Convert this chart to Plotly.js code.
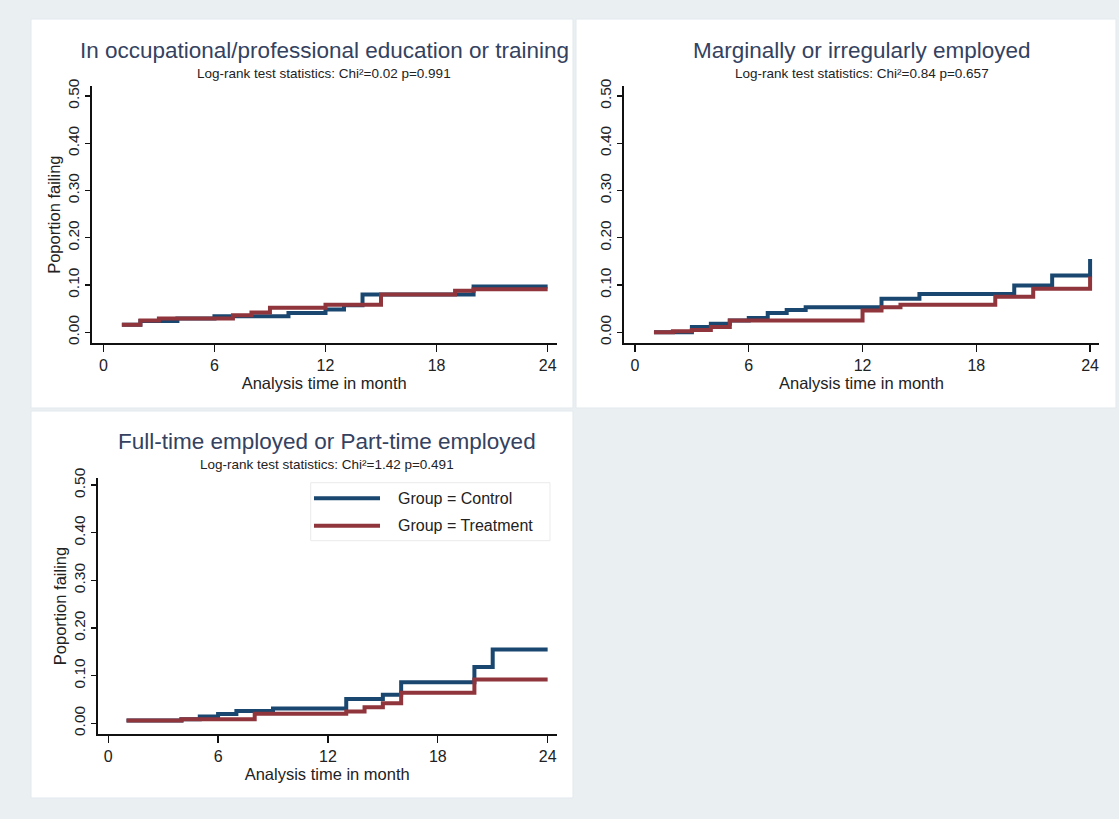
<!DOCTYPE html>
<html><head><meta charset="utf-8">
<script src="https://cdn.plot.ly/plotly-3.0.1.min.js"></script>
<style>html,body{margin:0;padding:0;background:#eaeff2;}#chart{width:1119px;height:819px;}</style>
</head><body><div id="chart"></div>
<script>
// ---- data ----
const panelTitles = ['In occupational/professional education or training', 'Marginally or irregularly employed', 'Full-time employed or Part-time employed'];
const panelSubtitles = ['Log-rank test statistics: Chi²=0.02 p=0.991', 'Log-rank test statistics: Chi²=0.84 p=0.657', 'Log-rank test statistics: Chi²=1.42 p=0.491'];
const groupNames = ['Group = Control', 'Group = Treatment'];
const xTickVals = [0, 6, 12, 18, 24];
const yTickVals = [0, 0.1, 0.2, 0.3, 0.4, 0.5];
const xAxisTitle = 'Analysis time in month';
const yAxisTitle = 'Poportion failing';

const eduControlT = [1, 2, 4, 6, 10, 12, 13, 14, 20, 24];
const eduControlV = [0.016, 0.024, 0.029, 0.034, 0.041, 0.048, 0.057, 0.080, 0.097, 0.097];
const eduTreatT = [1, 2, 3, 7, 8, 9, 12, 15, 19, 20, 24];
const eduTreatV = [0.016, 0.025, 0.029, 0.036, 0.042, 0.052, 0.058, 0.080, 0.088, 0.091, 0.091];

const margControlT = [1, 3, 4, 5, 6, 7, 8, 9, 13, 15, 20, 22, 24];
const margControlV = [0.000, 0.011, 0.018, 0.025, 0.030, 0.041, 0.047, 0.053, 0.071, 0.081, 0.099, 0.120, 0.155];
const margTreatT = [1, 2, 3, 4, 5, 12, 13, 14, 19, 21, 24];
const margTreatV = [0.000, 0.002, 0.005, 0.011, 0.025, 0.046, 0.053, 0.058, 0.075, 0.092, 0.118];

const fullControlT = [1, 4, 5, 6, 7, 9, 13, 15, 16, 20, 21, 24];
const fullControlV = [0.0056, 0.0084, 0.014, 0.0196, 0.026, 0.031, 0.051, 0.060, 0.086, 0.118, 0.155, 0.155];
const fullTreatT = [1, 4, 8, 13, 14, 15, 16, 20, 24];
const fullTreatV = [0.0056, 0.0084, 0.020, 0.025, 0.0335, 0.042, 0.064, 0.092, 0.092];

// ---- layout helpers ----
const W = 1119, H = 819;
const px = x => x / W;
const py = y => 1 - y / H;
const FONT = 'Arial, "Liberation Sans", sans-serif';
const BLUE = '#1a476f', RED = '#90353b';
const TITLE_COLOR = '#34425f', TEXT = '#222222';

const panels = [
  {key: '', left: 91.7, right: 556.7, top: 86, bottom: 343.3, xr: [-0.63, 24.49], yr: [-0.0233, 0.521], ytitle: true,
   ct: eduControlT, cv: eduControlV, tt: eduTreatT, tv: eduTreatV, box: [31, 19, 573, 408], titleY: 50, subY: 73.5},
  {key: '2', left: 624, right: 1099, top: 86, bottom: 343.3, xr: [-0.58, 24.47], yr: [-0.0233, 0.521], ytitle: false,
   ct: margControlT, cv: margControlV, tt: margTreatT, tv: margTreatV, box: [576, 19, 1116, 408], titleY: 50, subY: 73.5},
  {key: '3', left: 97.8, right: 556.6, top: 478, bottom: 734, xr: [-0.57, 24.49], yr: [-0.0225, 0.515], ytitle: true,
   ct: fullControlT, cv: fullControlV, tt: fullTreatT, tv: fullTreatV, box: [31, 411, 573, 798], titleY: 441, subY: 464}
];

const data = [];
const layout = {
  width: W, height: H, margin: {l: 0, r: 0, t: 0, b: 0},
  paper_bgcolor: '#eaeff2', plot_bgcolor: '#ffffff',
  font: {family: FONT, color: TEXT},
  showlegend: false, annotations: [], shapes: []
};

panels.forEach((p, i) => {
  const xa = 'x' + p.key, ya = 'y' + p.key;
  const gridKey = 'yaxis' + (4 + i);
  data.push({x: p.ct, y: p.cv, type: 'scatter', mode: 'lines', name: groupNames[0],
             line: {shape: 'hv', color: BLUE, width: 4}, xaxis: xa, yaxis: ya, hoverinfo: 'skip'});
  data.push({x: p.tt, y: p.tv, type: 'scatter', mode: 'lines', name: groupNames[1],
             line: {shape: 'hv', color: RED, width: 4}, xaxis: xa, yaxis: ya, hoverinfo: 'skip'});

  layout['xaxis' + p.key] = {
    domain: [px(p.left), px(p.right)], range: p.xr, anchor: ya,
    tickvals: xTickVals, ticks: 'outside', ticklen: 7, tickwidth: 1.3, tickcolor: '#111',
    showline: true, linecolor: '#111', linewidth: 1.6, showgrid: false, zeroline: false,
    tickfont: {size: 16, color: TEXT, family: FONT},
    title: {text: xAxisTitle, font: {size: 16.5, color: TEXT, family: FONT}, standoff: 1}
  };
  layout['yaxis' + p.key] = {
    domain: [py(p.bottom), py(p.top)], range: p.yr, anchor: xa,
    tickvals: yTickVals, tickformat: '.2f', tickangle: -90, ticks: 'outside', ticklen: 5, tickwidth: 1.3, tickcolor: '#111',
    showline: true, linecolor: '#111', linewidth: 1.6, showgrid: false, zeroline: false,
    tickfont: {size: 15.5, color: TEXT, family: FONT},
    title: p.ytitle ? {text: yAxisTitle, font: {size: 16.5, color: TEXT, family: FONT}, standoff: 0} : {text: ''}
  };
  // gridlines (not at the top tick) on an overlaid axis
  layout[gridKey] = {
    overlaying: ya, anchor: xa, range: p.yr, tickvals: yTickVals.slice(0, 5),
    showgrid: true, gridcolor: '#e6eaed', gridwidth: 1, showticklabels: false, ticks: '',
    showline: false, zeroline: false
  };
  // white panel background
  layout.shapes.push({type: 'rect', xref: 'paper', yref: 'paper', layer: 'below',
    x0: px(p.box[0]), x1: px(p.box[2]), y0: py(p.box[3]), y1: py(p.box[1]),
    fillcolor: '#ffffff', line: {color: '#e3e9ed', width: 1}});
  const cx = px((p.left + p.right) / 2);
  layout.annotations.push({text: panelTitles[i], xref: 'paper', yref: 'paper', x: cx, y: py(p.titleY),
    xanchor: 'center', yanchor: 'middle', showarrow: false, font: {size: 22.5, color: TITLE_COLOR, family: FONT}});
  layout.annotations.push({text: panelSubtitles[i], xref: 'paper', yref: 'paper', x: cx, y: py(p.subY),
    xanchor: 'center', yanchor: 'middle', showarrow: false, font: {size: 13.5, color: TEXT, family: FONT}});
});

// legend (inside panel 3)
layout.shapes.push({type: 'rect', xref: 'paper', yref: 'paper', x0: px(310.7), x1: px(550), y0: py(540.7), y1: py(482.7),
  fillcolor: '#ffffff', line: {color: '#ebebeb', width: 1}});
[[BLUE, 498.3], [RED, 525.7]].forEach((d, k) => {
  layout.shapes.push({type: 'line', xref: 'paper', yref: 'paper', x0: px(314), x1: px(380), y0: py(d[1]), y1: py(d[1]),
    line: {color: d[0], width: 4}});
  layout.annotations.push({text: groupNames[k], xref: 'paper', yref: 'paper', x: px(396), y: py(d[1]),
    xanchor: 'left', yanchor: 'middle', showarrow: false, font: {size: 16, color: TEXT, family: FONT}});
});

Plotly.newPlot('chart', data, layout, {staticPlot: true});
</script></body></html>
